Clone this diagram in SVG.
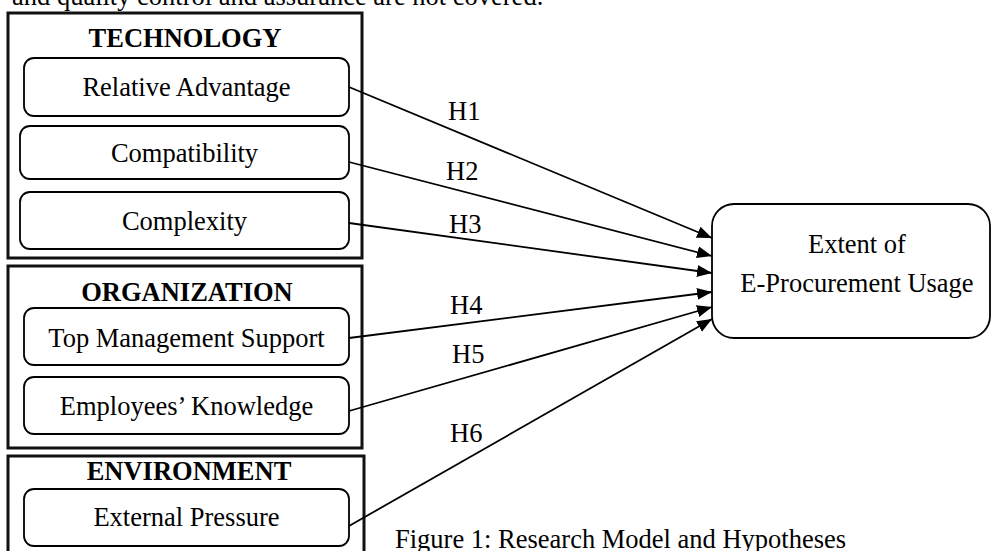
<svg xmlns="http://www.w3.org/2000/svg" width="992" height="551" viewBox="0 0 992 551">
<defs>
<style>
text{font-family:"Liberation Serif","Times New Roman",serif;font-size:26.5px;fill:#000}
.c{text-anchor:middle}
.b{font-weight:bold}
.outer{fill:none;stroke:#111;stroke-width:3}
.node{fill:#fff;stroke:#000;stroke-width:1.8}
.edge{fill:none;stroke:#000;stroke-width:1.8}
</style>
<marker id="ah" markerUnits="userSpaceOnUse" markerWidth="16" markerHeight="14" refX="15" refY="6" orient="auto">
<path d="M0,0 L15,6 L0,12 Z" fill="#000"/>
</marker>
</defs>
<rect width="992" height="551" fill="#fff"/>
<text x="12" y="5">and quality control and assurance are not covered.</text>

<g id="technology">
<rect class="outer" x="8" y="13" width="354" height="245"/>
<text class="c b" x="185" y="47">TECHNOLOGY</text>
</g>
<g id="relative-advantage">
<rect class="node" x="24" y="58" width="325" height="58" rx="10"/>
<text class="c" x="186.5" y="96">Relative Advantage</text>
</g>
<g id="compatibility">
<rect class="node" x="20" y="126" width="329" height="53" rx="10"/>
<text class="c" x="184.5" y="162">Compatibility</text>
</g>
<g id="complexity">
<rect class="node" x="20" y="192" width="329" height="57" rx="10"/>
<text class="c" x="184.5" y="230">Complexity</text>
</g>

<g id="organization">
<rect class="outer" x="8" y="266" width="354" height="182"/>
<text class="c b" x="187" y="301">ORGANIZATION</text>
</g>
<g id="top-management-support">
<rect class="node" x="24" y="308" width="325" height="57" rx="10"/>
<text class="c" x="186.5" y="347">Top Management Support</text>
</g>
<g id="employees-knowledge">
<rect class="node" x="24" y="377" width="325" height="57" rx="10"/>
<text class="c" x="186.5" y="415">Employees’ Knowledge</text>
</g>

<g id="environment">
<rect class="outer" x="8" y="456" width="356" height="110"/>
<text class="c b" x="189" y="480">ENVIRONMENT</text>
</g>
<g id="external-pressure">
<rect class="node" x="24" y="489" width="325" height="57" rx="10"/>
<text class="c" x="186.5" y="526">External Pressure</text>
</g>

<g id="extent-of-eprocurement-usage">
<rect class="node" x="712" y="204" width="278" height="134" rx="22"/>
<text class="c" x="857" y="253">Extent of</text>
<text class="c" x="857" y="292">E-Procurement Usage</text>
</g>

<g id="connectors">
<line class="edge" x1="349" y1="87" x2="712" y2="238" marker-end="url(#ah)"/>
<line class="edge" x1="349" y1="162" x2="712" y2="256" marker-end="url(#ah)"/>
<line class="edge" x1="349" y1="223" x2="712" y2="273" marker-end="url(#ah)"/>
<line class="edge" x1="349" y1="338" x2="712" y2="292" marker-end="url(#ah)"/>
<line class="edge" x1="349" y1="411" x2="712" y2="307" marker-end="url(#ah)"/>
<line class="edge" x1="349" y1="526" x2="712" y2="319" marker-end="url(#ah)"/>
<text x="448" y="120">H1</text>
<text x="446" y="180">H2</text>
<text x="449" y="233">H3</text>
<text x="450" y="314">H4</text>
<text x="452" y="363">H5</text>
<text x="450" y="442">H6</text>
</g>

<text x="395" y="548">Figure 1: Research Model and Hypotheses</text>
</svg>
